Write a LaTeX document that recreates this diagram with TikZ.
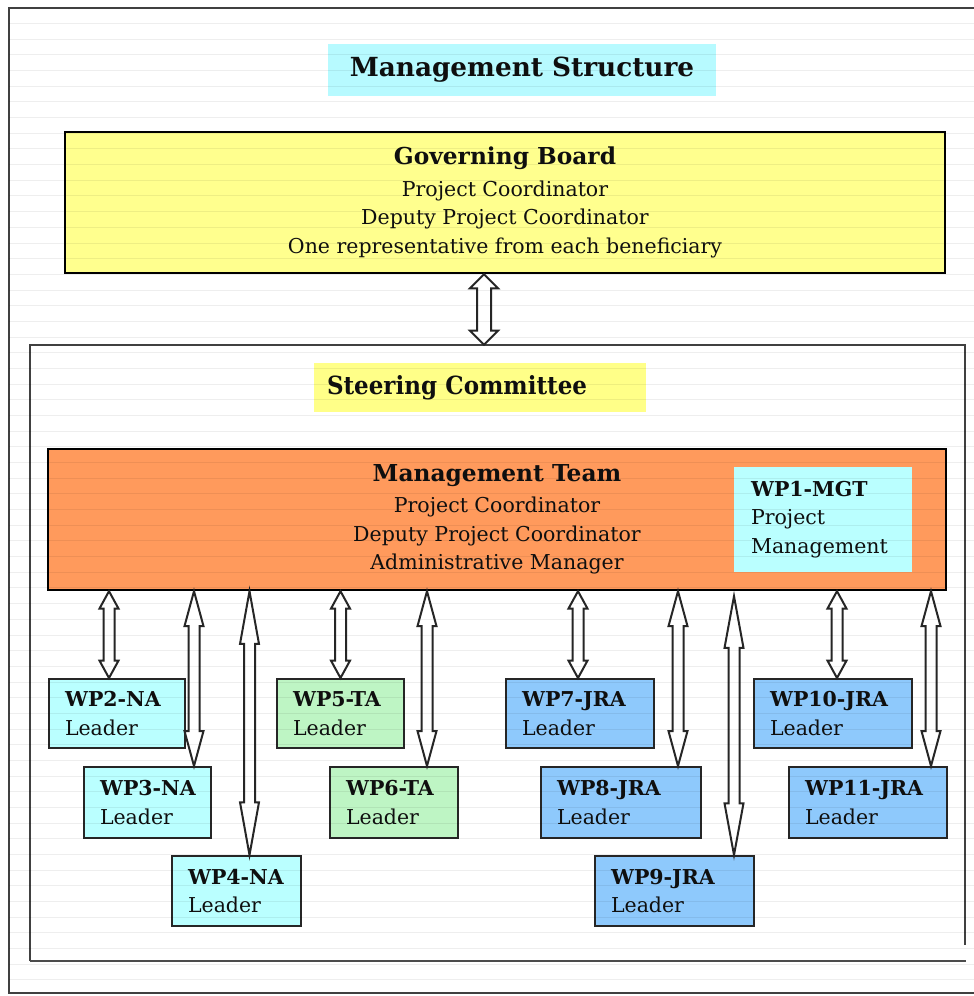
\documentclass[tikz,border=0pt]{standalone}
\usepackage{fontspec}
\setmainfont{DejaVu Serif}
\newfontfamily\condfont{DejaVu Serif}[FakeStretch=0.92]
\usetikzlibrary{calc}
\definecolor{cyanT}{RGB}{183,250,255}
\definecolor{cyanB}{RGB}{186,255,255}
\definecolor{yellowB}{RGB}{255,255,142}
\definecolor{yellowL}{RGB}{255,255,136}
\definecolor{orangeB}{RGB}{255,154,92}
\definecolor{greenB}{RGB}{190,245,196}
\definecolor{blueB}{RGB}{142,201,252}
\definecolor{inkc}{RGB}{15,15,15}
\newcommand\bodyfont{\fontsize{20.5}{28.5}\selectfont}
\newcommand\headfont{\bfseries\fontsize{23.3}{30}\selectfont}
\newcommand\wplabel[1]{\mbox{\bfseries #1}\\\mbox{Leader}}
\tikzset{
  bigbox/.style={draw=black, line width=2.4pt, align=center, text=inkc, font=\bodyfont, inner sep=0pt},
  wpbox/.style n args={4}{draw=black!85, line width=2pt, anchor=north west, align=left,
      text=inkc, font=\bodyfont, inner xsep=16pt, inner ysep=0pt,
      minimum width=#1, text width=#2, minimum height=#3, fill=#4},
  darr/.style={draw=black!85, line width=2pt, fill=white, line join=miter},
  rule/.style={draw=black, opacity=0.065, line width=1pt},
  framec/.style={draw=black!75, line width=1.6pt},
}
% vertical double arrow: #1 top anchor, #2 bottom anchor, #3 x offset from bottom anchor,
% #4 shaft half width, #5 head half width
\newcommand\vdarrow[5]{%
  \draw[darr] let \p1=(#1), \p2=(#2), \n1={\x2+#3}, \n2={\y1}, \n3={\y2}, \n4={0.2*(\y1-\y2)} in
    (\n1,\n2) -- ({\n1+#5},{\n2-\n4}) -- ({\n1+#4},{\n2-\n4}) -- ({\n1+#4},{\n3+\n4})
    -- ({\n1+#5},{\n3+\n4}) -- (\n1,\n3) -- ({\n1-#5},{\n3+\n4}) -- ({\n1-#4},{\n3+\n4})
    -- ({\n1-#4},{\n2-\n4}) -- ({\n1-#5},{\n2-\n4}) -- cycle;}
\begin{document}
\begin{tikzpicture}[x=1pt,y=1pt]
\useasboundingbox (0,0) rectangle (974,-996);
\fill[white] (0,0) rectangle (974,-996);
% outer frame
\draw[framec] (974,-8) -- (9,-8) -- (9,-993) -- (974,-993);

% title
\node[fill=cyanT, minimum width=388pt, minimum height=52pt, inner sep=0pt,
      font=\bfseries\fontsize{26.3}{32}\selectfont, text=inkc] (title) at (522,-70) {Management Structure};

% governing board
\node[bigbox, fill=yellowB, minimum width=880pt, minimum height=141pt] (gb) at (505,-202.5)
  {{\headfont Governing Board}\\[3pt]Project Coordinator\\Deputy Project Coordinator\\One representative from each beneficiary};

% steering committee frame
\node[minimum width=935pt, minimum height=616pt, inner sep=0pt] (sc) at (497.5,-653) {};
\draw[framec] (sc.south west) -- (sc.north west) -- (sc.north east) -- ([yshift=16pt]sc.south east);
\draw[draw=black!70, line width=2.4pt] (sc.south west) -- ([xshift=1pt]sc.south east);

\node[fill=yellowL, minimum width=332pt, minimum height=49pt, text width=306pt, align=left,
      inner xsep=13pt, inner ysep=0pt, text=inkc,
      font=\condfont\bfseries\fontsize{25}{30}\selectfont] (sclabel) at (480,-387.5) {Steering Committee};

% management team
\node[bigbox, fill=orangeB, minimum width=898pt, minimum height=141pt] (mt) at (497,-519.5)
  {{\headfont Management Team}\\[3pt]Project Coordinator\\Deputy Project Coordinator\\Administrative Manager};
\node[fill=cyanB, minimum width=178pt, minimum height=105pt, text width=144pt, align=left,
      inner xsep=17pt, inner ysep=0pt, text=inkc, font=\bodyfont] (wp1) at (823,-519.5)
  {\textbf{WP1-MGT}\\Project\\Management};

% work package boxes
\node[wpbox={136pt}{104pt}{69pt}{cyanB}] (wp2) at (48,-678) {\wplabel{WP2-NA}};
\node[wpbox={127pt}{95pt}{71pt}{cyanB}] (wp3) at (83,-766) {\wplabel{WP3-NA}};
\node[wpbox={129pt}{97pt}{70pt}{cyanB}] (wp4) at (171,-855) {\wplabel{WP4-NA}};
\node[wpbox={127pt}{95pt}{69pt}{greenB}] (wp5) at (276,-678) {\wplabel{WP5-TA}};
\node[wpbox={128pt}{96pt}{71pt}{greenB}] (wp6) at (329,-766) {\wplabel{WP6-TA}};
\node[wpbox={148pt}{116pt}{69pt}{blueB}] (wp7) at (505,-678) {\wplabel{WP7-JRA}};
\node[wpbox={160pt}{128pt}{71pt}{blueB}] (wp8) at (540,-766) {\wplabel{WP8-JRA}};
\node[wpbox={159pt}{127pt}{70pt}{blueB}] (wp9) at (594,-855) {\wplabel{WP9-JRA}};
\node[wpbox={158pt}{126pt}{69pt}{blueB}] (wp10) at (753,-678) {\wplabel{WP10-JRA}};
\node[wpbox={158pt}{126pt}{71pt}{blueB}] (wp11) at (788,-766) {\wplabel{WP11-JRA}};

% arrows
\vdarrow{gb.south}{sc.north}{-13.5}{7}{14}
\vdarrow{mt.south}{wp2.north}{-8}{5.5}{9.5}
\vdarrow{mt.south}{wp3.north}{46.5}{5.5}{9.5}
\vdarrow{mt.south}{wp4.north}{13}{5.5}{9.5}
\vdarrow{mt.south}{wp5.north}{0}{5.5}{9.5}
\vdarrow{mt.south}{wp6.north}{33}{5.5}{9.5}
\vdarrow{mt.south}{wp7.north}{-2}{5.5}{9.5}
\vdarrow{mt.south}{wp8.north}{57}{5.5}{9.5}
\vdarrow{[yshift=-5pt]mt.south}{wp9.north}{59.5}{5.5}{9.5}
\vdarrow{mt.south}{wp10.north}{4}{5.5}{9.5}
\vdarrow{mt.south}{wp11.north}{63}{5.5}{9.5}

% faint ruled background lines
\foreach \i in {0,...,61} \draw[rule] (9,{-23.5-15.68*\i}) -- (974,{-23.5-15.68*\i});
\end{tikzpicture}
\end{document}
